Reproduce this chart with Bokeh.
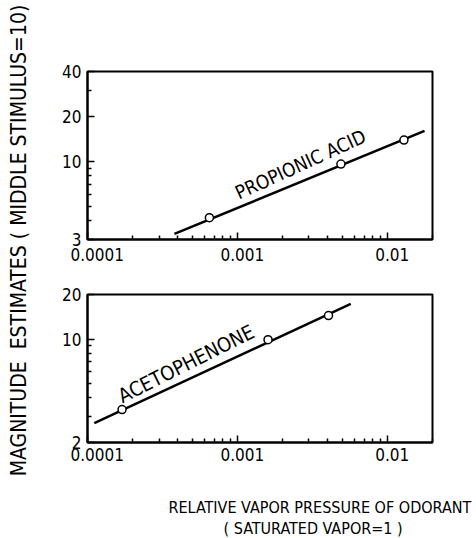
import math
from bokeh.plotting import figure
from bokeh.layouts import row, column
from bokeh.models import FixedTicker, Range1d, Title
from bokeh.core.properties import value
from bokeh.embed import file_html
from bokeh.resources import INLINE

FONT = "Liberation Sans Narrow, DejaVu Sans Condensed, Liberation Sans"
NB = "\u00a0"

# ---- data ----
X_MAJOR = [1e-4, 1e-3, 1e-2]
X_LABELS = ["0.0001", "0.001", "0.01"]
X_LABEL_PAD = [4, 2, 2]
X_MINOR = [2e-4, 3e-4, 4e-4, 5e-4, 6e-4, 7e-4, 8e-4, 9e-4,
           2e-3, 3e-3, 4e-3, 5e-3, 6e-3, 7e-3, 8e-3, 9e-3, 2e-2]

TOP_Y_MAJOR = [3, 10, 20, 40]
TOP_Y_MINOR = [4, 5, 6, 7, 8, 9, 30]
BOT_Y_MAJOR = [2, 10, 20]
BOT_Y_MINOR = [3, 4, 5, 6, 7, 8, 9]

PROP_X = [6.5e-4, 4.9e-3, 1.29e-2]
PROP_Y = [4.2, 9.6, 13.9]
PROP_FIT_X = [3.8e-4, 1.77e-2]
PROP_FIT_Y = [3.27, 16.0]

ACET_X = [1.7e-4, 1.6e-3, 4.05e-3]
ACET_Y = [3.34, 9.9, 14.4]
ACET_FIT_X = [1.11e-4, 5.7e-3]
ACET_FIT_Y = [2.7, 17.3]

PROP_LABEL = ("PROPIONIC ACID", 9.8e-4, 6.1, 24.5)
ACET_LABEL = ("ACETOPHENONE", 1.63e-4, 4.05, 26.6)

Y_TITLE = "MAGNITUDE" + NB + " ESTIMATES ( MIDDLE STIMULUS=10)"
X_TITLE_1 = "RELATIVE VAPOR PRESSURE OF ODORANT"
X_TITLE_2 = "( SATURATED VAPOR=1 )"


def panel(height, top, bottom, y_lo, y_hi, y_major, y_minor, x_standoff):
    p = figure(width=436, height=height, x_axis_type="log", y_axis_type="log",
               x_range=Range1d(1e-4, 2e-2), y_range=Range1d(y_lo, y_hi),
               toolbar_location=None, output_backend="svg",
               min_border_left=47, min_border_right=44,
               min_border_top=top, min_border_bottom=bottom)
    p.grid.visible = False
    p.outline_line_color = "black"
    p.outline_line_width = 2
    p.background_fill_color = "white"
    p.border_fill_color = "white"

    xa = p.xaxis[0]
    xa.ticker = FixedTicker(ticks=X_MAJOR, minor_ticks=X_MINOR)
    xa.major_label_overrides = {v: NB * n + s for v, s, n in zip(X_MAJOR, X_LABELS, X_LABEL_PAD)}
    xa.major_label_standoff = x_standoff
    ya = p.yaxis[0]
    ya.ticker = FixedTicker(ticks=y_major, minor_ticks=y_minor)
    ya.major_label_overrides = {v: str(v) for v in y_major}
    ya.major_label_standoff = 6
    for ax in (xa, ya):
        ax.axis_line_width = 2
        ax.axis_line_color = "black"
        ax.major_tick_in = 7
        ax.major_tick_out = 0
        ax.minor_tick_in = 4
        ax.minor_tick_out = 0
        ax.major_tick_line_width = 1.5
        ax.minor_tick_line_width = 1.5
        ax.major_tick_line_color = "black"
        ax.minor_tick_line_color = "black"
        ax.major_label_text_font = FONT
        ax.major_label_text_font_size = "17px"
        ax.major_label_text_color = "black"
    return p


top = panel(270, 71, 31, 3, 40, TOP_Y_MAJOR, TOP_Y_MINOR, 5)
top.line(PROP_FIT_X, PROP_FIT_Y, line_width=2.5, line_color="black")
top.scatter(PROP_X, PROP_Y, marker="circle", size=8, fill_color="white",
            line_color="black", line_width=1.5)
top.text(x=[PROP_LABEL[1]], y=[PROP_LABEL[2]], text=[PROP_LABEL[0]],
         angle=math.radians(PROP_LABEL[3]), text_font=value(FONT),
         text_font_size="19px", text_align="left", text_baseline="alphabetic",
         text_color="black")

bot = panel(268, 24, 96, 2, 20, BOT_Y_MAJOR, BOT_Y_MINOR, 2)
bot.line(ACET_FIT_X, ACET_FIT_Y, line_width=2.5, line_color="black")
bot.scatter(ACET_X, ACET_Y, marker="circle", size=8, fill_color="white",
            line_color="black", line_width=1.5)
bot.text(x=[ACET_LABEL[1]], y=[ACET_LABEL[2]], text=[ACET_LABEL[0]],
         angle=math.radians(ACET_LABEL[3]), text_font=value(FONT),
         text_font_size="20px", text_align="left", text_baseline="alphabetic",
         text_color="black")
# blank axis label used only as vertical spacing above the two title lines
bot.xaxis.axis_label = NB
bot.xaxis.axis_label_text_font_size = "15px"
bot.xaxis.axis_label_standoff = 8
bot.add_layout(Title(text=X_TITLE_1, align="left", offset=81, standoff=0,
                     text_font=FONT, text_font_size="16px", text_font_style="normal",
                     text_color="black"), "below")
bot.add_layout(Title(text=X_TITLE_2, align="left", offset=136, standoff=0,
                     text_font=FONT, text_font_size="16px", text_font_style="normal",
                     text_color="black"), "below")

# y title strip (coordinates = window pixels)
ylab = figure(width=40, height=538, x_range=Range1d(0, 40), y_range=Range1d(538, 0),
              toolbar_location=None, output_backend="svg",
              x_axis_location=None, y_axis_location=None, min_border=0)
ylab.grid.visible = False
ylab.outline_line_color = None
ylab.text(x=[18], y=[240], text=[Y_TITLE], angle=math.pi / 2,
          text_font=value(FONT), text_font_size="21px",
          text_align="center", text_baseline="middle", text_color="black")

layout = row(ylab, column(top, bot))
open("out.html", "w").write(file_html(layout, INLINE))
